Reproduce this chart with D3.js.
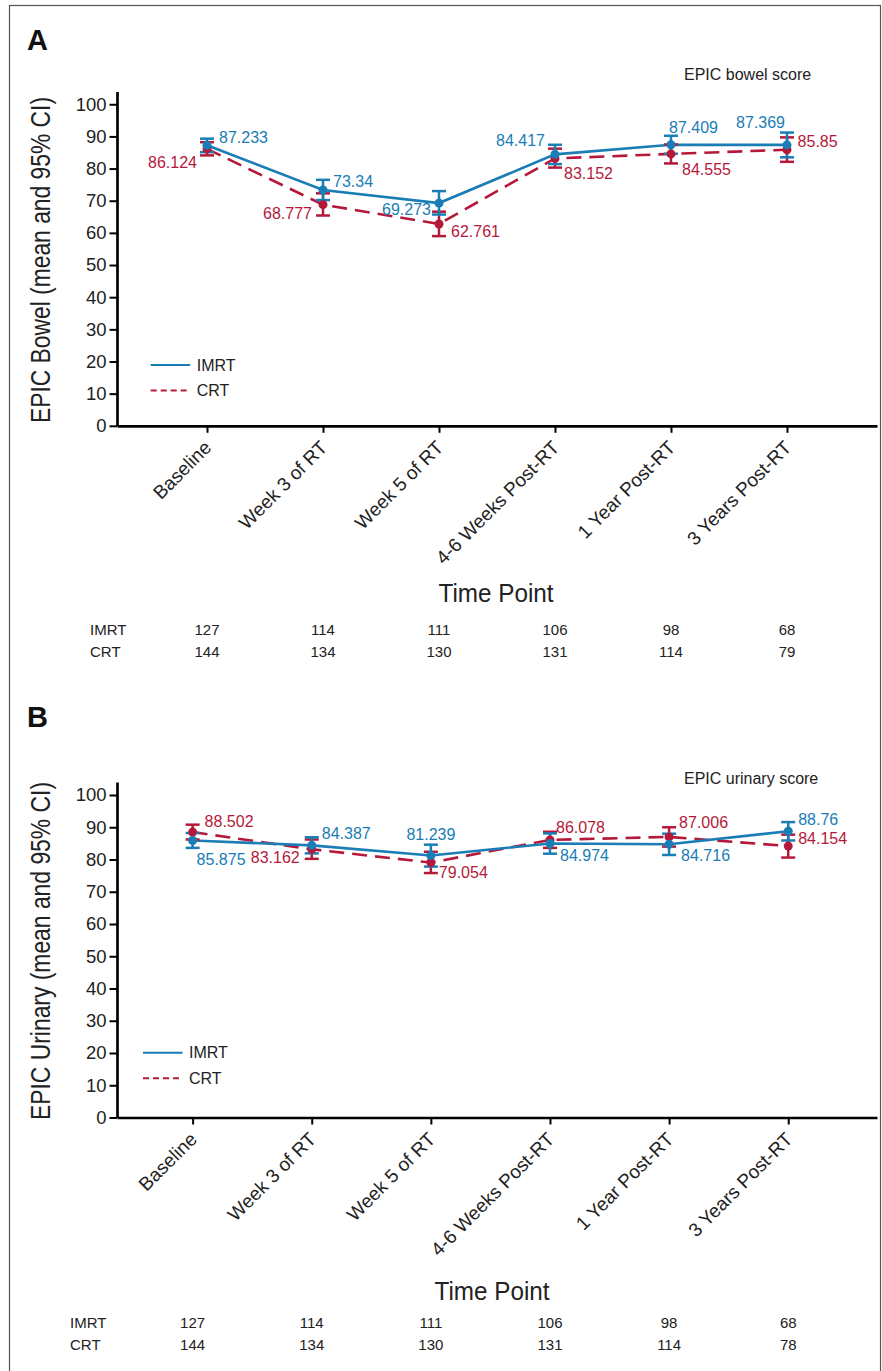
<!DOCTYPE html>
<html>
<head>
<meta charset="utf-8">
<script src="https://cdn.jsdelivr.net/npm/d3@7"></script>
<style>
  body { margin: 0; background: #fff; }
  svg text { font-family: "Liberation Sans", Arial, sans-serif; fill: #222; }
</style>
</head>
<body>
<div class="chart"></div>
<script>
// Time points shared by both panels
var timePoints = ["Baseline", "Week 3 of RT", "Week 5 of RT", "4-6 Weeks Post-RT", "1 Year Post-RT", "3 Years Post-RT"];
var yTickValues = [0, 10, 20, 30, 40, 50, 60, 70, 80, 90, 100];

// Panel A - EPIC bowel
var bowelImrt = [87.233, 73.34, 69.273, 84.417, 87.409, 87.369];
var bowelImrtLo = [85.1, 70.2, 65.7, 81.4, 84.6, 83.5];
var bowelImrtHi = [89.3, 76.5, 73.0, 87.4, 90.2, 91.2];
var bowelCrt = [86.124, 68.777, 62.761, 83.152, 84.555, 85.85];
var bowelCrtLo = [84.1, 65.4, 59.0, 80.3, 81.6, 82.1];
var bowelCrtHi = [88.2, 72.3, 66.6, 86.2, 87.5, 89.7];
var bowelNImrt = [127, 114, 111, 106, 98, 68];
var bowelNCrt = [144, 134, 130, 131, 114, 79];

// Panel B - EPIC urinary
var urinaryImrt = [85.875, 84.387, 81.239, 84.974, 84.716, 88.76];
var urinaryImrtLo = [83.6, 81.9, 77.8, 81.8, 81.4, 85.9];
var urinaryImrtHi = [88.2, 86.9, 84.6, 88.1, 88.0, 91.6];
var urinaryCrt = [88.502, 83.162, 79.054, 86.078, 87.006, 84.154];
var urinaryCrtLo = [86.2, 80.2, 75.8, 83.6, 84.0, 80.6];
var urinaryCrtHi = [90.8, 86.2, 82.4, 88.6, 90.0, 87.7];
var urinaryNImrt = [127, 114, 111, 106, 98, 68];
var urinaryNCrt = [144, 134, 130, 131, 114, 78];

var blue = "#1a7db5";
var red = "#b5193a";

var svg = d3.select(".chart")
  .append("svg")
  .attr("width", 882)
  .attr("height", 1371);

// outer frame
svg.append("rect")
  .attr("x", 9.5).attr("y", 5.5)
  .attr("width", 871).attr("height", 1380)
  .attr("fill", "none")
  .attr("stroke", "#555")
  .attr("stroke-width", 1.2);

// label placement [dx, dy, anchor] for each point, per panel
var panels = [
  {
    letter: "A", letterY: 50,
    title: "EPIC Bowel (mean and 95% CI)", titleY: 260, titleLen: 326,
    subtitle: "EPIC bowel score", subtitleY: 80,
    y0: 425.8, yTop: 91.4, padding: 0.776, align: 0.5,
    imrt: bowelImrt, imrtLo: bowelImrtLo, imrtHi: bowelImrtHi,
    crt: bowelCrt, crtLo: bowelCrtLo, crtHi: bowelCrtHi,
    nImrt: bowelNImrt, nCrt: bowelNCrt,
    imrtLab: [[12, -2, "start"], [10, -3, "start"], [-8, 12, "end"], [-10, -8, "end"], [-2, -12, "start"], [-2, -16.5, "end"]],
    crtLab: [[-10, 19, "end"], [-11, 14, "end"], [12, 13, "start"], [9, 21, "start"], [11, 21, "start"], [10.6, -3, "start"]],
    legendX: 150.7, legendY: 365,
    timeX: 496, timeY: 602, nLabelX: 90, nY: 635
  },
  {
    letter: "B", letterY: 727,
    title: "EPIC Urinary (mean and 95% CI)", titleY: 951, titleLen: 338,
    subtitle: "EPIC urinary score", subtitleY: 784,
    y0: 1117.5, yTop: 782.1, padding: 0.69, align: 0.46,
    imrt: urinaryImrt, imrtLo: urinaryImrtLo, imrtHi: urinaryImrtHi,
    crt: urinaryCrt, crtLo: urinaryCrtLo, crtHi: urinaryCrtHi,
    nImrt: urinaryNImrt, nCrt: urinaryNCrt,
    imrtLab: [[4, 24.5, "start"], [10, -6, "start"], [0, -16, "middle"], [10, 18, "start"], [12, 17, "start"], [10, -6, "start"]],
    crtLab: [[12, -5, "start"], [-12, 14, "end"], [8, 15, "start"], [6, -6.6, "start"], [10, -8.6, "start"], [10, -2, "start"]],
    legendX: 143, legendY: 1052.7,
    timeX: 492, timeY: 1300, nLabelX: 70, nY: 1328
  }
];

panels.forEach(function(p) {
  var g = svg.append("g");

  var xScale = d3.scalePoint()
    .domain(timePoints)
    .range([117, 877])
    .padding(p.padding)
    .align(p.align);

  var yScale = d3.scaleLinear()
    .domain([0, 104])
    .range([p.y0, p.yTop]);

  // panel letter
  g.append("text")
    .attr("x", 27).attr("y", p.letterY)
    .style("font-size", "29px")
    .style("font-weight", "bold")
    .style("fill", "#111")
    .text(p.letter);

  g.append("text")
    .attr("x", 684).attr("y", p.subtitleY)
    .style("font-size", "16px")
    .text(p.subtitle);

  // y axis title
  g.append("text")
    .attr("transform", "translate(49.5," + p.titleY + ") rotate(-90)")
    .attr("text-anchor", "middle")
    .attr("textLength", p.titleLen)
    .attr("lengthAdjust", "spacingAndGlyphs")
    .style("font-size", "27px")
    .text(p.title);

  // axes
  var leftAxis = d3.axisLeft(yScale).tickValues(yTickValues).tickSizeInner(7.5).tickSizeOuter(0).tickPadding(3);
  var bottomAxis = d3.axisBottom(xScale).tickSizeInner(7).tickSizeOuter(0);

  var yAxisG = g.append("g")
    .attr("transform", "translate(117,0)")
    .call(leftAxis);
  yAxisG.select(".domain").attr("stroke-width", 2.7).attr("stroke", "#000");
  yAxisG.selectAll(".tick line").attr("stroke-width", 2).attr("stroke", "#000");
  yAxisG.selectAll(".tick text")
    .style("font-size", "18.5px")
    .style("font-family", "'Liberation Sans', Arial, sans-serif")
    .attr("fill", "#222");

  var xAxisG = g.append("g")
    .attr("transform", "translate(0," + p.y0 + ")")
    .call(bottomAxis);
  xAxisG.select(".domain").attr("stroke-width", 2.7).attr("stroke", "#000");
  xAxisG.selectAll(".tick line").attr("stroke-width", 2).attr("stroke", "#000");
  xAxisG.selectAll(".tick text")
    .attr("x", 0).attr("y", 0).attr("dy", null)
    .attr("text-anchor", "end")
    .attr("transform", "translate(5,23) rotate(-45)")
    .style("font-size", "19px")
    .style("font-family", "'Liberation Sans', Arial, sans-serif")
    .attr("fill", "#222");

  g.append("text")
    .attr("x", p.timeX).attr("y", p.timeY)
    .attr("text-anchor", "middle")
    .attr("textLength", 115)
    .attr("lengthAdjust", "spacingAndGlyphs")
    .style("font-size", "25px")
    .text("Time Point");

  // series
  var series = [
    { name: "CRT", mean: p.crt, lo: p.crtLo, hi: p.crtHi, color: red, dash: "15,8", lab: p.crtLab },
    { name: "IMRT", mean: p.imrt, lo: p.imrtLo, hi: p.imrtHi, color: blue, dash: null, lab: p.imrtLab }
  ];

  var line = d3.line()
    .x(function(d, i) { return xScale(timePoints[i]); })
    .y(function(d) { return yScale(d); });

  series.forEach(function(s) {
    g.append("path")
      .datum(s.mean)
      .attr("d", line)
      .attr("fill", "none")
      .attr("stroke", s.color)
      .attr("stroke-width", 2.6)
      .attr("stroke-dasharray", s.dash);
  });

  series.forEach(function(s) {
    var eb = g.append("g").selectAll("g")
      .data(s.mean)
      .enter()
      .append("g")
      .attr("stroke", s.color)
      .attr("stroke-width", 2.5);
    eb.append("line")
      .attr("x1", function(d, i) { return xScale(timePoints[i]); })
      .attr("x2", function(d, i) { return xScale(timePoints[i]); })
      .attr("y1", function(d, i) { return yScale(s.lo[i]); })
      .attr("y2", function(d, i) { return yScale(s.hi[i]); });
    eb.append("line")
      .attr("x1", function(d, i) { return xScale(timePoints[i]) - 7; })
      .attr("x2", function(d, i) { return xScale(timePoints[i]) + 7; })
      .attr("y1", function(d, i) { return yScale(s.lo[i]); })
      .attr("y2", function(d, i) { return yScale(s.lo[i]); });
    eb.append("line")
      .attr("x1", function(d, i) { return xScale(timePoints[i]) - 7; })
      .attr("x2", function(d, i) { return xScale(timePoints[i]) + 7; })
      .attr("y1", function(d, i) { return yScale(s.hi[i]); })
      .attr("y2", function(d, i) { return yScale(s.hi[i]); });
  });

  series.forEach(function(s) {
    g.append("g").selectAll("circle")
      .data(s.mean)
      .enter()
      .append("circle")
      .attr("cx", function(d, i) { return xScale(timePoints[i]); })
      .attr("cy", function(d) { return yScale(d); })
      .attr("r", 4.5)
      .attr("fill", s.color);

    g.append("g").selectAll("text")
      .data(s.mean)
      .enter()
      .append("text")
      .attr("x", function(d, i) { return xScale(timePoints[i]) + s.lab[i][0]; })
      .attr("y", function(d, i) { return yScale(d) + s.lab[i][1]; })
      .attr("text-anchor", function(d, i) { return s.lab[i][2]; })
      .style("font-size", "16px")
      .style("fill", s.color)
      .text(function(d) { return d; });
  });

  // legend
  var legend = [
    { name: "IMRT", color: blue, dash: null },
    { name: "CRT", color: red, dash: "6,4" }
  ];
  legend.forEach(function(l, i) {
    var ly = p.legendY + i * 25.5;
    g.append("line")
      .attr("x1", p.legendX).attr("x2", p.legendX + 39.5)
      .attr("y1", ly).attr("y2", ly)
      .attr("stroke", l.color)
      .attr("stroke-width", 2)
      .attr("stroke-dasharray", l.dash);
    g.append("text")
      .attr("x", p.legendX + 46).attr("y", ly)
      .attr("dy", "0.36em")
      .style("font-size", "16px")
      .text(l.name);
  });

  // patient counts
  var counts = [
    { name: "IMRT", values: p.nImrt },
    { name: "CRT", values: p.nCrt }
  ];
  counts.forEach(function(c, i) {
    var cy = p.nY + i * 22;
    g.append("text")
      .attr("x", p.nLabelX).attr("y", cy)
      .style("font-size", "15px")
      .text(c.name);
    g.append("g").selectAll("text")
      .data(c.values)
      .enter()
      .append("text")
      .attr("x", function(d, j) { return xScale(timePoints[j]); })
      .attr("y", cy)
      .attr("text-anchor", "middle")
      .style("font-size", "15px")
      .text(function(d) { return d; });
  });
});
</script>
</body>
</html>
